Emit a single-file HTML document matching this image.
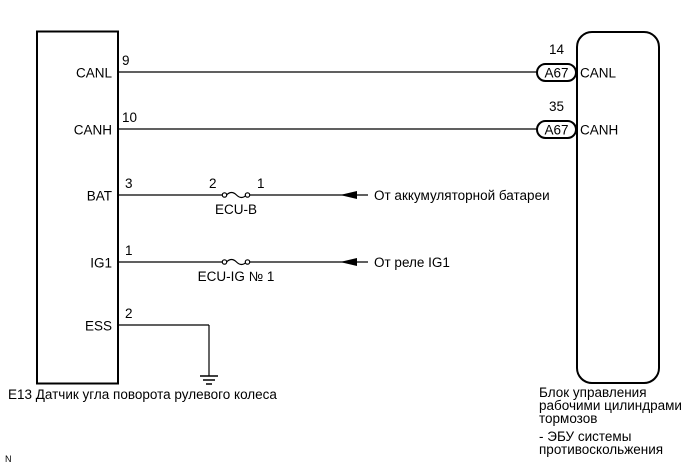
<!DOCTYPE html>
<html><head><meta charset="utf-8"><style>
html,body{margin:0;padding:0;background:#fff;}
svg{display:block;}
text{font-family:"Liberation Sans",Arial,sans-serif;font-size:13.5px;fill:#000;}
</style></head><body>
<svg width="690" height="465" viewBox="0 0 690 465" xmlns="http://www.w3.org/2000/svg">
<rect x="37" y="31.5" width="81" height="352" fill="none" stroke="#000" stroke-width="2"/>
<rect x="577" y="32" width="82" height="351" rx="15" ry="15" fill="none" stroke="#000" stroke-width="2"/>
<g stroke="#000" stroke-width="1.2" fill="none">
<line x1="118" y1="72" x2="537" y2="72"/>
<line x1="118" y1="129" x2="537" y2="129"/>
<line x1="118" y1="195" x2="224" y2="195"/>
<line x1="246" y1="195" x2="368" y2="195"/>
<line x1="118" y1="262" x2="224" y2="262"/>
<line x1="246" y1="262" x2="368" y2="262"/>
<line x1="118" y1="325" x2="209" y2="325"/>
<line x1="209" y1="325" x2="209" y2="376"/>
<path d="M226.5 195 q5 -5 10 0 t10 0" />
<path d="M226.5 262 q5 -5 10 0 t10 0" />
</g>
<g fill="#fff" stroke="#000" stroke-width="1.2">
<circle cx="224.5" cy="195" r="2.2"/><circle cx="247.5" cy="195" r="2.2"/>
<circle cx="224.5" cy="262" r="2.2"/><circle cx="247.5" cy="262" r="2.2"/>
</g>
<g stroke="#000" stroke-width="1.5">
<line x1="200" y1="376" x2="218" y2="376"/>
<line x1="203" y1="380" x2="215" y2="380"/>
<line x1="206" y1="384" x2="212" y2="384"/>
</g>
<polygon points="340,195 357,191 357,199" fill="#000"/>
<polygon points="340,262 357,258 357,266" fill="#000"/>
<g fill="#fff" stroke="#000" stroke-width="2">
<rect x="537" y="64" width="39" height="17" rx="8.5"/>
<rect x="537" y="121" width="39" height="17" rx="8.5"/>
</g>
<text x="556.5" y="77.5" text-anchor="middle">A67</text>
<text x="556.5" y="134.5" text-anchor="middle">A67</text>
<text x="549" y="54">14</text>
<text x="549" y="111">35</text>
<text x="580" y="77.5">CANL</text>
<text x="580" y="134.5">CANH</text>
<g text-anchor="end">
<text x="112" y="77.5">CANL</text>
<text x="112" y="134.5">CANH</text>
<text x="112" y="200.5">BAT</text>
<text x="112" y="267.5">IG1</text>
<text x="112" y="330.5">ESS</text>
</g>
<text x="122" y="65">9</text>
<text x="122" y="122">10</text>
<text x="125" y="188">3</text>
<text x="125" y="255">1</text>
<text x="125" y="318">2</text>
<text x="209" y="188">2</text>
<text x="257" y="188">1</text>
<text x="236" y="214" text-anchor="middle">ECU-B</text>
<text x="236" y="281" text-anchor="middle">ECU-IG № 1</text>
<text x="374" y="200">От аккумуляторной батареи</text>
<text x="374" y="267">От реле IG1</text>
<text x="8" y="399">E13  Датчик угла поворота рулевого колеса</text>
<text x="539" y="397">Блок управления</text>
<text x="539" y="410">рабочими цилиндрами</text>
<text x="539" y="423">тормозов</text>
<text x="539" y="441">- ЭБУ системы</text>
<text x="539" y="454">противоскольжения</text>
<text x="5" y="462" style="font-size:9px">N</text>
</svg>
</body></html>
